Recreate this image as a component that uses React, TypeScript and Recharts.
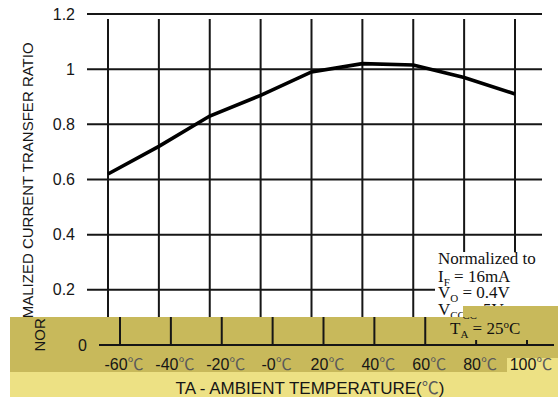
import React from 'react';
import { LineChart, Line, XAxis, YAxis, CartesianGrid, ReferenceLine } from 'recharts';

const temps = [-60, -40, -20, 0, 20, 40, 60, 80, 100];
const tempLabels = ['-60', '-40', '-20', '-0', '20', '40', '60', '80', '100'];
const ratios = [0.62, 0.72, 0.83, 0.905, 0.99, 1.02, 1.015, 0.97, 0.91];
const yTicks = [0, 0.2, 0.4, 0.6, 0.8, 1, 1.2];
const yTickLabels = ['0', '0.2', '0.4', '0.6', '0.8', '1', '1.2'];
const yTitle = 'NORMALIZED CURRENT TRANSFER RATIO';
const xTitle = 'TA - AMBIENT TEMPERATURE(';
const unit = '℃';

const legendLines = [
  { main: 'Normalized to', sub: '', rest: '', sup: '', tail: '' },
  { main: 'I', sub: 'F', rest: ' = 16mA', sup: '', tail: '' },
  { main: 'V', sub: 'O', rest: ' = 0.4V', sup: '', tail: '' },
  { main: 'V', sub: 'CC', rest: ' = 5V', sup: '', tail: '' },
  { main: 'T', sub: 'A', rest: ' = 25', sup: 'o', tail: 'C' },
];
const legendBaselines = [264, 282, 298, 315, 334];

const data = temps.map((t, i) => ({ t, r: ratios[i] }));

const TAN = '#c8b95b';
const LIGHT = '#ede184';
const INK = '#161616';
const SANS = '"Liberation Sans", Arial, sans-serif';
const SERIF = '"Liberation Serif", "Times New Roman", serif';
const CJK = '"Noto Sans CJK SC", "DejaVu Sans", sans-serif';

const XTick = (props: any) => {
  const { x, y, payload } = props;
  const i = temps.indexOf(payload.value);
  return (
    <text x={x + 4} y={y} dy={17} textAnchor="middle" fontSize={16} fontFamily={SANS} fill={INK}>
      <tspan>{tempLabels[i]}</tspan>
      <tspan fontFamily={CJK} fontSize={16} fill="#5a5a5a">{unit}</tspan>
    </text>
  );
};

const YTick = (props: any) => {
  const { x, y, payload } = props;
  const i = yTicks.indexOf(payload.value);
  return (
    <text x={x} y={y} dx={-4} textAnchor="end" dominantBaseline="central" fontSize={16} fontFamily={SANS} fill={INK}>
      {yTickLabels[i]}
    </text>
  );
};

function Scene({ boxFill }: { boxFill: string }) {
  return (
    <div style={{ position: 'absolute', left: 0, top: 0, width: 558, height: 397 }}>
      <LineChart width={558} height={397} data={data} margin={{ top: 14, right: 16, bottom: 0, left: 0 }}>
        <CartesianGrid vertical={false} stroke={INK} strokeWidth={2} />
        <XAxis
          dataKey="t"
          type="number"
          domain={[-60, 100]}
          ticks={temps}
          interval={0}
          padding={{ left: 21, right: 27 }}
          axisLine={false}
          tickLine={false}
          height={52}
          tick={<XTick />}
        />
        <YAxis
          domain={[0, 1.2]}
          ticks={yTicks}
          interval={0}
          width={87}
          axisLine={false}
          tickLine={false}
          tick={<YTick />}
        />
        {temps.map((t) => (
          <ReferenceLine
            key={t}
            segment={[{ x: t, y: 1.182 }, { x: t, y: 0 }]}
            stroke={INK}
            strokeWidth={2}
            ifOverflow="visible"
          />
        ))}
        <Line
          dataKey="r"
          type="linear"
          stroke="#000"
          strokeWidth={3.6}
          dot={false}
          isAnimationActive={false}
        />
      </LineChart>
      <svg width={558} height={397} style={{ position: 'absolute', left: 0, top: 0 }}>
        <text
          transform="rotate(-90)"
          x={-197}
          y={33}
          textAnchor="middle"
          fontSize={15}
          fontFamily={SANS}
          fill={INK}
        >
          {yTitle}
        </text>
        <rect x={435} y={252} width={123} height={88} fill={boxFill} />
        {legendLines.map((l, i) => (
          <text
            key={i}
            x={438}
            y={legendBaselines[i]}
            fontSize={17}
            fontFamily={SERIF}
            fill="#111"
            style={{ whiteSpace: 'pre' }}
          >
            <tspan>{l.main}</tspan>
            {l.sub ? <tspan fontSize={11} dy={4}>{l.sub}</tspan> : null}
            {l.rest ? <tspan dy={l.sub ? -4 : 0}>{l.rest}</tspan> : null}
            {l.sup ? <tspan fontSize={11} dy={-6}>{l.sup}</tspan> : null}
            {l.tail ? <tspan dy={6}>{l.tail}</tspan> : null}
          </text>
        ))}
      </svg>
    </div>
  );
}

export default function App() {
  return (
    <div
      style={{
        position: 'fixed',
        left: 0,
        top: 0,
        width: 558,
        height: 397,
        overflow: 'hidden',
        background: '#fff',
      }}
    >
      <Scene boxFill="#fff" />
      <div style={{ position: 'absolute', left: 463, top: 306, width: 95, height: 11, background: TAN }} />
      <div
        style={{
          position: 'absolute',
          left: 10,
          top: 317,
          width: 548,
          height: 55,
          overflow: 'hidden',
          background: TAN,
        }}
      >
        <div style={{ position: 'absolute', left: 497, top: 41, width: 51, height: 14, background: LIGHT }} />
        <div style={{ position: 'absolute', left: 2, top: -317, width: 558, height: 397 }}>
          <Scene boxFill={TAN} />
        </div>
      </div>
      <div style={{ position: 'absolute', left: 10, top: 372, width: 548, height: 25, background: LIGHT }}>
        <svg width={548} height={25} style={{ display: 'block' }}>
          <text x={300} y={22} textAnchor="middle" fontSize={17} fontFamily={SANS} fill={INK}>
            <tspan>{xTitle}</tspan>
            <tspan fontFamily={CJK} fontSize={17} fill="#5a5a5a">{unit}</tspan>
            <tspan>)</tspan>
          </text>
        </svg>
      </div>
    </div>
  );
}
